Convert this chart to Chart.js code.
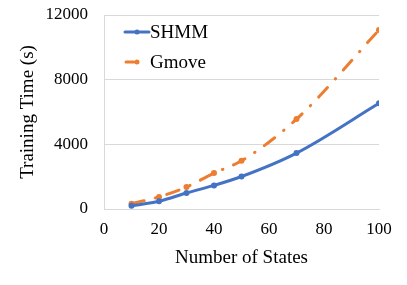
<!DOCTYPE html>
<html>
<head>
<meta charset="utf-8">
<script src="https://cdn.jsdelivr.net/npm/chart.js@4"></script>
<style>
  html, body { margin: 0; padding: 0; background: #ffffff; }
  #chart { display: block; }
</style>
</head>
<body>
<canvas id="chart" width="407" height="285"></canvas>
<script>
// Data
const states = [10, 20, 30, 40, 50, 70, 100];
const shmmTimes = [200, 480, 990, 1460, 2010, 3460, 6540];
const gmoveTimes = [330, 750, 1360, 2220, 2980, 5560, 11070];
const seriesLabels = ['SHMM', 'Gmove'];
const yTicks = [0, 4000, 8000, 12000];
const xTicks = [0, 20, 40, 60, 80, 100];

const BLUE = '#4472C4';
const ORANGE = '#ED7D31';
const FONT = "'Liberation Serif', 'Times New Roman', serif";

function toPoints(xs, ys) {
  return xs.map((x, i) => ({ x: x, y: ys[i] }));
}

// Legend drawn inside the plot area, top-left
const insideLegend = {
  id: 'insideLegend',
  afterDraw(chart) {
    const ctx = chart.ctx;
    const rows = [32, 62];
    chart.data.datasets.forEach((ds, i) => {
      const y = rows[i];
      ctx.save();
      ctx.strokeStyle = ds.borderColor;
      ctx.lineWidth = ds.borderWidth;
      ctx.lineCap = 'round';
      ctx.beginPath();
      if (ds.borderDash) {
        ctx.moveTo(126, y);
        ctx.lineTo(134, y);
      } else {
        ctx.moveTo(125, y);
        ctx.lineTo(149, y);
      }
      ctx.stroke();
      ctx.fillStyle = ds.pointBackgroundColor;
      ctx.beginPath();
      ctx.arc(137, y, 2.5, 0, Math.PI * 2);
      ctx.fill();
      ctx.fillStyle = '#000';
      ctx.font = '19px ' + FONT;
      ctx.textBaseline = 'middle';
      ctx.fillText(ds.label, 150, y + 1);
      ctx.restore();
    });
  }
};

new Chart(document.getElementById('chart'), {
  type: 'line',
  data: {
    datasets: [
      {
        label: seriesLabels[0],
        data: toPoints(states, shmmTimes),
        borderColor: BLUE,
        backgroundColor: BLUE,
        pointBackgroundColor: BLUE,
        pointBorderWidth: 0,
        borderWidth: 3,
        pointRadius: 3,
        tension: 0.3,
        cubicInterpolationMode: 'monotone'
      },
      {
        label: seriesLabels[1],
        data: toPoints(states, gmoveTimes),
        borderColor: ORANGE,
        backgroundColor: ORANGE,
        pointBackgroundColor: ORANGE,
        pointBorderWidth: 0,
        borderWidth: 3,
        borderDash: [13, 11.5, 0.5, 11.5],
        borderCapStyle: 'round',
        pointRadius: 3,
        tension: 0.3,
        cubicInterpolationMode: 'monotone'
      }
    ]
  },
  options: {
    responsive: false,
    devicePixelRatio: 1,
    animation: false,
    layout: { padding: { top: 15, right: 28, left: 0, bottom: 16 } },
    plugins: {
      legend: { display: false },
      tooltip: { enabled: false }
    },
    scales: {
      x: {
        type: 'linear',
        min: 0,
        max: 100,
        afterBuildTicks: (axis) => { axis.ticks = xTicks.map((v) => ({ value: v })); },
        afterFit: (axis) => {
          axis.height = 60;
          axis.paddingRight = 0;
          axis.paddingLeft = 0;
        },
        grid: { display: false, drawTicks: false },
        border: { display: true, color: '#d9d9d9', width: 1 },
        ticks: {
          color: '#000',
          font: { family: FONT, size: 17 },
          padding: 10,
          maxRotation: 0,
          callback: (v) => String(v)
        },
        title: {
          display: true,
          text: 'Number of States',
          color: '#000',
          font: { family: FONT, size: 19 },
          padding: { top: 4, bottom: 0 }
        }
      },
      y: {
        min: 0,
        max: 12000,
        afterBuildTicks: (axis) => { axis.ticks = yTicks.map((v) => ({ value: v })); },
        afterFit: (axis) => {
          axis.width = 104;
          axis.paddingTop = 0;
          axis.paddingBottom = 0;
        },
        grid: { color: '#d9d9d9', drawTicks: false, lineWidth: 1 },
        border: { display: true, color: '#d9d9d9', width: 1 },
        ticks: {
          color: '#000',
          font: { family: FONT, size: 17 },
          padding: 16,
          callback: (v) => String(v)
        },
        title: {
          display: true,
          text: 'Training Time (s)',
          color: '#000',
          font: { family: FONT, size: 19 },
          padding: { top: 17, bottom: 4 }
        }
      }
    }
  },
  plugins: [insideLegend]
});
</script>
</body>
</html>
